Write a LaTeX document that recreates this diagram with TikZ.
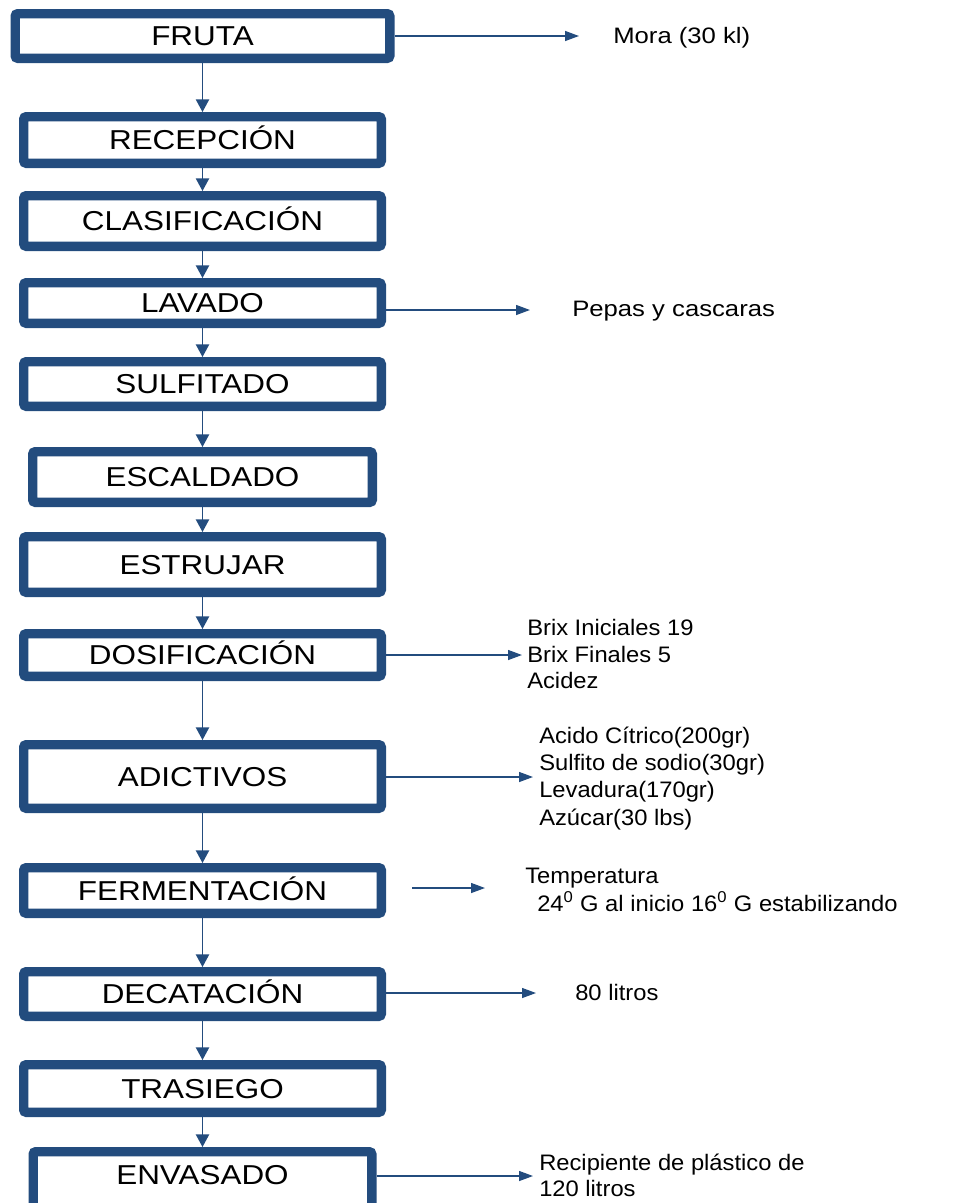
\documentclass[tikz,border=0pt]{standalone}
\usepackage{fontspec}
\setmainfont{Liberation Sans}[FakeStretch=1.15]
\newfontfamily\sidefontn{Liberation Sans}[FakeStretch=1.06]
\usetikzlibrary{arrows.meta}
\definecolor{boxblue}{RGB}{35,76,126}
\begin{document}
\begin{tikzpicture}[x=0.75pt,y=-0.75pt,
  stepbox/.style={draw=boxblue, line width=7pt, rounded corners=2pt, fill=white, inner sep=0pt,
    font=\fontsize{20.5pt}{24pt}\selectfont, text height=14.7pt, text depth=0pt, minimum width=268.25pt},
  vflow/.style={draw=boxblue, line width=1pt, -{Triangle[length=9.5pt,width=10pt]}},
  hflow/.style={draw=boxblue, line width=1pt, -{Triangle[length=10.5pt,width=7.5pt]}},
  bigside/.style={anchor=base west, inner sep=0pt, font=\fontsize{16.75pt}{20pt}\selectfont},
  side/.style={anchor=base west, inner sep=0pt, font=\sidefontn\fontsize{16.8pt}{20pt}\selectfont}]
\useasboundingbox (0,0) rectangle (953,1203);

% process boxes
\node[stepbox, minimum width=281pt, minimum height=33.5pt] (fruta) at (202.5,36) {FRUTA};
\node[stepbox, minimum height=35pt] (recep) at (202.5,140) {RECEPCIÓN};
\node[stepbox, minimum height=38pt] (clasif) at (202.5,221) {CLASIFICACIÓN};
\node[stepbox, minimum height=30.5pt] (lavado) at (202.5,303) {LAVADO};
\node[stepbox, minimum height=33.5pt] (sulf) at (202.5,384) {SULFITADO};
\node[stepbox, minimum width=254.75pt, minimum height=38pt] (escal) at (202.5,477) {ESCALDADO};
\node[stepbox, minimum height=41.75pt] (estru) at (202.5,564.5) {ESTRUJAR};
\node[stepbox, minimum height=32pt] (dosif) at (202.5,655) {DOSIFICACIÓN};
\node[stepbox, minimum height=47.75pt] (adict) at (202.5,776.5) {ADICTIVOS};
\node[stepbox, minimum height=34.25pt] (ferm) at (202.5,890.5) {FERMENTACIÓN};
\node[stepbox, minimum height=33.5pt] (decat) at (202.5,994) {DECATACIÓN};
\node[stepbox, minimum height=35.75pt] (tras) at (202.5,1088.5) {TRASIEGO};
\node[stepbox, minimum width=254pt, minimum height=42.5pt, text depth=7.5pt] (envas) at (202.5,1180) {ENVASADO};

% vertical flow
\draw[vflow] (fruta.south) -- (recep.north);
\draw[vflow] (recep.south) -- (clasif.north);
\draw[vflow] (clasif.south) -- (lavado.north);
\draw[vflow] (lavado.south) -- (sulf.north);
\draw[vflow] (sulf.south) -- (escal.north);
\draw[vflow] (escal.south) -- (estru.north);
\draw[vflow] (estru.south) -- (dosif.north);
\draw[vflow] (dosif.south) -- (adict.north);
\draw[vflow] (adict.south) -- (ferm.north);
\draw[vflow] (ferm.south) -- (decat.north);
\draw[vflow] (decat.south) -- (tras.north);
\draw[vflow] (tras.south) -- (envas.north);

% side arrow ends
\coordinate (tF) at (579,36);
\coordinate (tL) at (530,310);
\coordinate (tD) at (522,655);
\coordinate (tA) at (533,777);
\coordinate (sFe) at (412,888);
\coordinate (tFe) at (485,888);
\coordinate (tDe) at (536,993);
\coordinate (tE) at (533,1176);

\draw[hflow] (fruta.east |- tF) -- (tF);
\draw[hflow] (lavado.east |- tL) -- (tL);
\draw[hflow] (dosif.east |- tD) -- (tD);
\draw[hflow] (adict.east |- tA) -- (tA);
\draw[hflow] (sFe) -- (tFe);
\draw[hflow] (decat.east |- tDe) -- (tDe);
\draw[hflow] (envas.east |- tE) -- (tE);

% side texts
\node[bigside] (mora) at (613,43) {Mora (30 kl)};
\node[bigside] (pepas) at (572,316) {Pepas y cascaras};
\node[side] (brix1) at (527,635) {Brix Iniciales 19};
\node[side] (brix2) at (527,662) {Brix Finales 5};
\node[side] (acidez) at (527,688.5) {Acidez};
\node[side] (ac1) at (539,743.5) {Acido Cítrico(200gr)};
\node[side] (ac2) at (539,770.5) {Sulfito de sodio(30gr)};
\node[side] (ac3) at (539,797.5) {Levadura(170gr)};
\node[side] (ac4) at (539,825) {Azúcar(30 lbs)};
\node[side] (temp1) at (525,883) {Temperatura};
\node[side] (temp2) at (537,911) {24\textsuperscript{0} G al inicio 16\textsuperscript{0} G estabilizando};
\node[side] (litros) at (575,1000) {80 litros};
\node[side] (reci1) at (539,1170) {Recipiente de plástico de};
\node[side] (reci2) at (539,1196.5) {120 litros};
\end{tikzpicture}
\end{document}
